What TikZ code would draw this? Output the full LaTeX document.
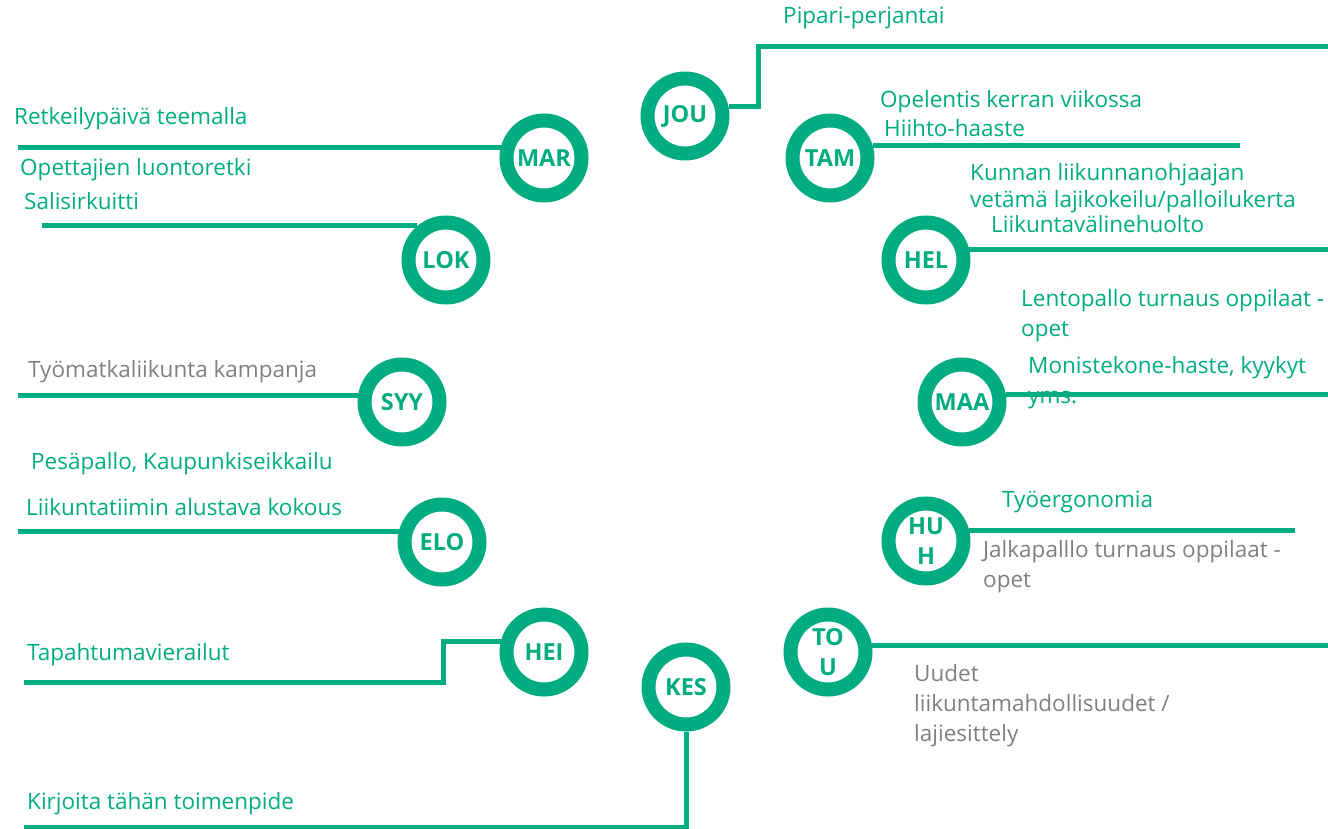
\documentclass[tikz,border=0pt]{standalone}
\usepackage{fontspec}
\setmainfont{Open Sans}
\usetikzlibrary{positioning}
\definecolor{vihrea}{RGB}{0,172,128}
\definecolor{harmaa}{RGB}{128,128,128}

\begin{document}
\begin{tikzpicture}[x=1pt, y=-1pt,
        kuukausi/.style={circle, draw=vihrea, line width=14pt, minimum size=75pt, inner sep=0pt,
            text=vihrea, align=center, font=\fontsize{23.5}{30}\selectfont\bfseries},
        viiva/.style={draw=vihrea, line width=5pt},
        teksti/.style={anchor=west, inner sep=0pt, text=vihrea, align=left,
            font=\fontsize{22.5}{30}\selectfont},
        harmaateksti/.style={teksti, text=harmaa}
    ]
        \useasboundingbox (0,0) rectangle (1328,829);

        % Kuukaudet
        \node [kuukausi] (JOU) at (685,116) {JOU};
        \node [kuukausi] (TAM) at (830,158) {TAM};
        \node [kuukausi] (HEL) at (926,260) {HEL};
        \node [kuukausi] (MAA) at (962,402) {MAA};
        \node [kuukausi] (HUH) at (926,541) {HU\\H};
        \node [kuukausi] (TOU) at (828,652) {TO\\U};
        \node [kuukausi] (KES) at (686,687) {KES};
        \node [kuukausi] (HEI) at (544,652) {HEI};
        \node [kuukausi] (ELO) at (442,542) {ELO};
        \node [kuukausi] (SYY) at (402,402) {SYY};
        \node [kuukausi] (LOK) at (446,260) {LOK};
        \node [kuukausi] (MAR) at (544,158) {MAR};

        % Tekstit
        \node [teksti] (t1) at (783,18) {Pipari-perjantai};
        \node [teksti] (t2) at (880,102) {Opelentis kerran viikossa};
        \node [teksti] (t3) at (884,128) {Hiihto-haaste};
        \node [teksti] (t4) at (970,188) {Kunnan liikunnanohjaajan\\[-3pt]vetämä lajikokeilu/palloilukerta};
        \node [teksti] (t5) at (991,224) {Liikuntavälinehuolto};
        \node [teksti] (t6) at (1021,316) {Lentopallo turnaus oppilaat -\\opet};
        \node [teksti] (t7) at (1028,383) {Monistekone-haste, kyykyt\\yms.};
        \node [teksti] (t8) at (1002,502) {Työergonomia};
        \node [harmaateksti] (t9) at (983,567) {Jalkapalllo turnaus oppilaat -\\opet};
        \node [harmaateksti] (t10) at (914,706) {Uudet\\liikuntamahdollisuudet /\\lajiesittely};
        \node [teksti] (t11) at (14,119) {Retkeilypäivä teemalla};
        \node [teksti] (t12) at (20,170) {Opettajien luontoretki};
        \node [teksti] (t13) at (24,201) {Salisirkuitti};
        \node [harmaateksti] (t14) at (28,372) {Työmatkaliikunta kampanja};
        \node [teksti] (t15) at (31,464) {Pesäpallo, Kaupunkiseikkailu};
        \node [teksti] (t16) at (26,507) {Liikuntatiimin alustava kokous};
        \node [teksti] (t17) at (27,655) {Tapahtumavierailut};
        \node [teksti] (t18) at (27,804) {Kirjoita tähän toimenpide};

        % Viivojen päät
        \coordinate (jouKulma) at (758,47);
        \coordinate (jouLoppu) at (1328,47);
        \coordinate (tamLoppu) at (1240,146);
        \coordinate (oikeaReuna) at (1328,0);
        \coordinate (huhLoppu) at (1295,531);
        \coordinate (heiKulma) at (443,682);
        \coordinate (heiLoppu) at (24,682);
        \coordinate (kesLoppu) at (24,827);
        \coordinate (marLoppu) at (18,148);
        \coordinate (lokLoppu) at (42,226);
        \coordinate (vasenReuna) at (18,0);

        % Viivat
        \draw [viiva] (JOU.12) -| (jouKulma) -- (jouLoppu);
        \draw [viiva] (TAM.16) -- (TAM.16 -| tamLoppu);
        \draw [viiva] (HEL.13) -- (HEL.13 -| oikeaReuna);
        \draw [viiva] (MAA.10) -- (MAA.10 -| oikeaReuna);
        \draw [viiva] (HUH.13) -- (HUH.13 -| huhLoppu);
        \draw [viiva] (TOU.8) -- (TOU.8 -| oikeaReuna);
        \draw [viiva] (KES.south) |- (kesLoppu);
        \draw [viiva] (HEI.166) -| (heiKulma) -- (heiLoppu);
        \draw [viiva] (ELO.167) -- (ELO.167 -| vasenReuna);
        \draw [viiva] (SYY.171) -- (SYY.171 -| vasenReuna);
        \draw [viiva] (LOK.130) -- (LOK.130 -| lokLoppu);
        \draw [viiva] (MAR.167) -- (MAR.167 -| marLoppu);
    \end{tikzpicture}
\end{document}
